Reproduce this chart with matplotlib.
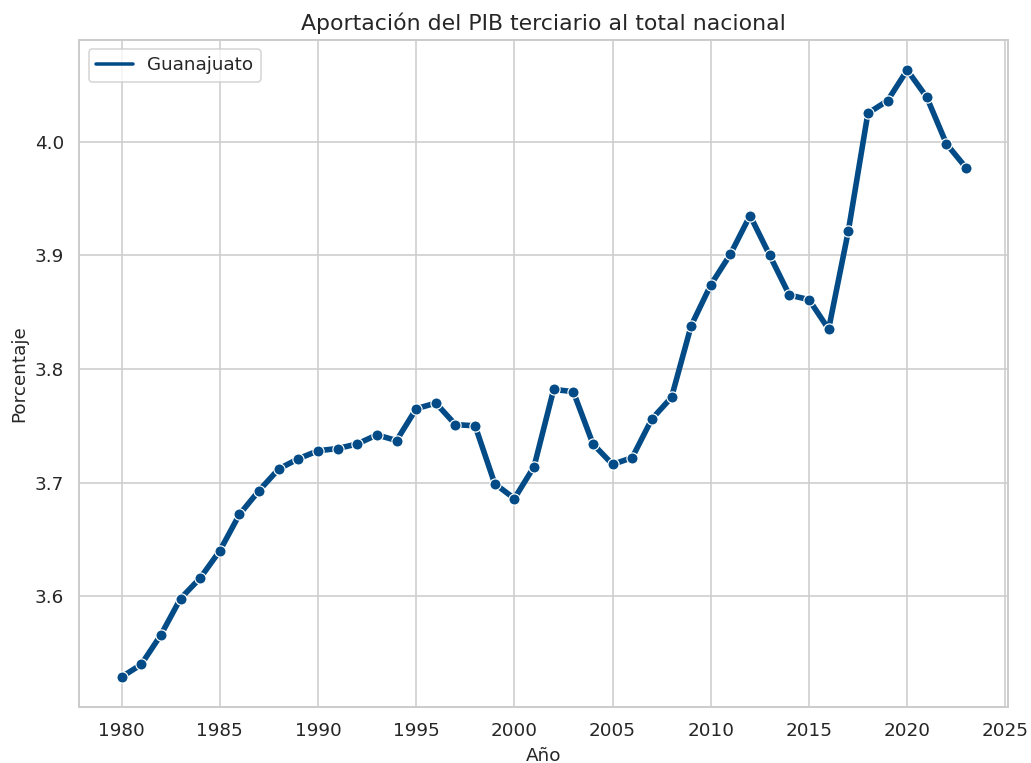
import matplotlib
matplotlib.use("Agg")
import matplotlib.pyplot as plt
from matplotlib.lines import Line2D
import seaborn as sns

# Data
years = list(range(1980, 2024))
porcentaje = [3.529, 3.540, 3.566, 3.598, 3.616, 3.640, 3.672, 3.693, 3.712, 3.721,
              3.728, 3.730, 3.734, 3.742, 3.737, 3.765, 3.770, 3.751, 3.750, 3.699,
              3.686, 3.714, 3.782, 3.780, 3.734, 3.716, 3.722, 3.756, 3.775, 3.838,
              3.874, 3.901, 3.935, 3.900, 3.865, 3.861, 3.835, 3.921, 4.025, 4.036,
              4.063, 4.039, 3.998, 3.977]
line_color = "#024b86"

sns.set_theme(style="whitegrid")

DPI = 115
fig, ax = plt.subplots(figsize=(1031 / DPI, 763 / DPI), dpi=DPI)
sns.lineplot(x=years, y=porcentaje, marker="o", color=line_color, linewidth=3.5,
             markersize=7, markeredgecolor="white", ax=ax)

ax.set_title("Aportación del PIB terciario al total nacional", fontsize=13.8)
ax.set_xlabel("Año", fontsize=11.5)
ax.set_ylabel("Porcentaje", fontsize=11.5)
ax.set_xticks(range(1980, 2026, 5))
ax.tick_params(labelsize=11.5)

# legend shows a plain line, no marker
handle = Line2D([], [], color=line_color, linewidth=2.2)
ax.legend([handle], ["Guanajuato"], loc="upper left", fontsize=11.5)

fig.subplots_adjust(left=0.077, right=0.978, top=0.948, bottom=0.073)
plt.savefig("out.png")
